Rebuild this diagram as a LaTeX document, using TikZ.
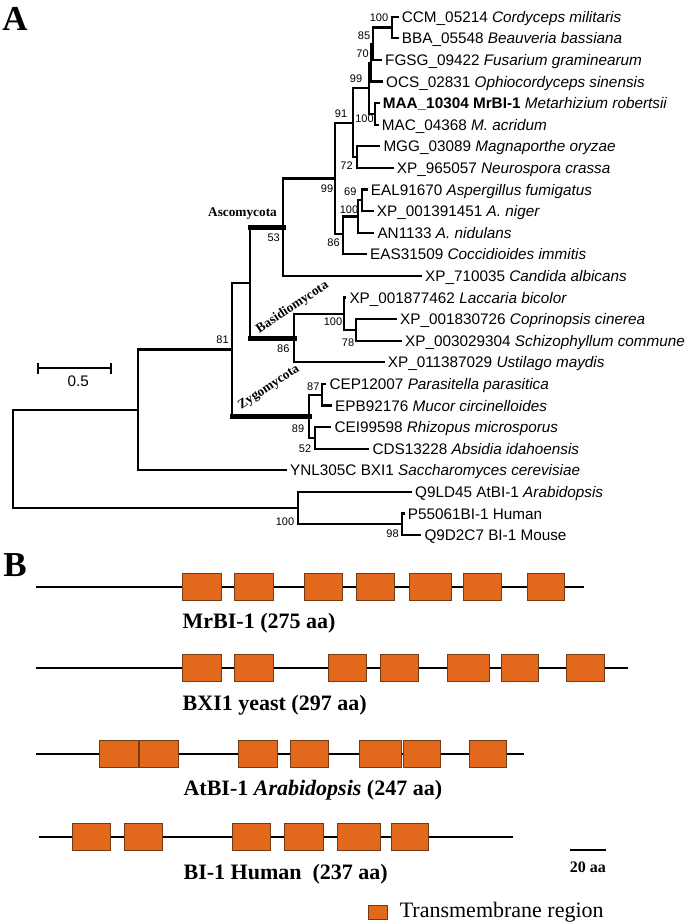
\documentclass[tikz,border=0pt]{standalone}
\usepackage{fontspec}
\setmainfont{Liberation Serif}
\newfontfamily\arialfont{Liberation Sans}
\definecolor{tmorange}{RGB}{226,104,28}
\definecolor{tmedge}{RGB}{115,58,20}
\tikzset{
    branch/.style={line width=2.2pt},
    cladebar/.style={line width=5pt, line cap=rect},
    taxon/.style={anchor=west, inner sep=3pt, text height=11pt, text depth=0pt,
        font=\arialfont\fontsize{15.3}{18}\selectfont},
    boot/.style={inner sep=0pt, font=\arialfont\fontsize{11}{13}\selectfont},
    cladelab/.style={inner sep=0pt, font=\bfseries\fontsize{13.3}{15}\selectfont},
    panellab/.style={inner sep=0pt, font=\bfseries\fontsize{35}{40}\selectfont},
    protline/.style={line width=2.7pt},
    tmbox/.style={fill=tmorange, draw=tmedge, line width=0.8pt},
    protlab/.style={anchor=west, inner sep=0pt, text height=14pt, text depth=0pt,
        font=\bfseries\fontsize{22}{25}\selectfont},
    pics/protein/.style n args = {3}{
        code = {
        \draw[protline] (#1,0) -- (#2,0);
        \foreach \xa/\xb in {#3} {\draw[tmbox] (\xa,-13.5) rectangle (\xb,13.5);}
        }
    }
}

\begin{document}
\begin{tikzpicture}[x=1pt,y=-1pt]
    \useasboundingbox (0,0) rectangle (685,924);

    % panel A
    \node[panellab] (labA) at (15,19) {A};

    \node[taxon] (CCM)  at (398.7,16.7)  {CCM\_05214 \textit{Cordyceps militaris}};
    \node[taxon] (BBA)  at (398.7,38.3)  {BBA\_05548 \textit{Beauveria bassiana}};
    \node[taxon] (FGSG) at (382,59.9)    {FGSG\_09422 \textit{Fusarium graminearum}};
    \node[taxon] (OCS)  at (383,81.5)    {OCS\_02831 \textit{Ophiocordyceps sinensis}};
    \node[taxon] (MAA)  at (379.7,103.1) {\textbf{MAA\_10304 MrBI-1} \textit{Metarhizium robertsii}};
    \node[taxon] (MAC)  at (378.7,124.7) {MAC\_04368 \textit{M. acridum}};
    \node[taxon] (MGG)  at (380.3,146.3) {MGG\_03089 \textit{Magnaporthe oryzae}};
    \node[taxon] (NCR)  at (393.7,167.9) {XP\_965057 \textit{Neurospora crassa}};
    \node[taxon] (EAL)  at (367.7,189.5) {EAL91670 \textit{Aspergillus fumigatus}};
    \node[taxon] (ANG)  at (373.7,211.1) {XP\_001391451 \textit{A. niger}};
    \node[taxon] (AND)  at (374.3,232.7) {AN1133 \textit{A. nidulans}};
    \node[taxon] (EAS)  at (367,254.3)   {EAS31509 \textit{Coccidioides immitis}};
    \node[taxon] (CAL)  at (422,275.9)   {XP\_710035 \textit{Candida albicans}};
    \node[taxon] (LBI)  at (346.3,297.5) {XP\_001877462 \textit{Laccaria bicolor}};
    \node[taxon] (CCI)  at (397,319.1)   {XP\_001830726 \textit{Coprinopsis cinerea}};
    \node[taxon] (SCO)  at (402,340.7)   {XP\_003029304 \textit{Schizophyllum commune}};
    \node[taxon] (UMA)  at (384.7,362.3) {XP\_011387029 \textit{Ustilago maydis}};
    \node[taxon] (CEP)  at (326.3,383.9) {CEP12007 \textit{Parasitella parasitica}};
    \node[taxon] (EPB)  at (332,405.5)   {EPB92176 \textit{Mucor circinelloides}};
    \node[taxon] (CEI)  at (331.3,427.1) {CEI99598 \textit{Rhizopus microsporus}};
    \node[taxon] (CDS)  at (369.3,448.7) {CDS13228 \textit{Absidia idahoensis}};
    \node[taxon] (SCE)  at (287,470.3)   {YNL305C BXI1 \textit{Saccharomyces cerevisiae}};
    \node[taxon] (ATH)  at (412,491.9)   {Q9LD45 AtBI-1 \textit{Arabidopsis}};
    \node[taxon] (HSA)  at (404.7,513.5) {P55061BI-1 Human};
    \node[taxon] (MMU)  at (421.3,535.1) {Q9D2C7 BI-1 Mouse};

    \coordinate (nA)    at (391.7,27.5);
    \coordinate (nB)    at (373,43.7);
    \coordinate (nC)    at (371,62.6);
    \coordinate (nD)    at (375,113.9);
    \coordinate (nE)    at (369,88.3);
    \coordinate (nF)    at (356.7,157.1);
    \coordinate (nG)    at (353.3,122.7);
    \coordinate (nH)    at (361.7,200.3);
    \coordinate (nI)    at (358.3,216.5);
    \coordinate (nJ)    at (343.3,234);
    \coordinate (nPez)  at (335,178.5);
    \coordinate (nAsco) at (283.3,227.5);
    \coordinate (nC78)  at (356,329.9);
    \coordinate (nC100) at (344.3,313.7);
    \coordinate (nBasi) at (294.3,338);
    \coordinate (nAB)   at (250,282.7);
    \coordinate (n87)   at (321.7,394.7);
    \coordinate (n52)   at (315,437.9);
    \coordinate (n89)   at (309,416.3);
    \coordinate (n81)   at (232.3,349.5);
    \coordinate (nFY)   at (137.7,409.9);
    \coordinate (n98)   at (401.7,524.3);
    \coordinate (nPA)   at (298,508.1);
    \coordinate (nRoot) at (13.3,459);

    \draw[branch] (nA) |- (CCM.west);
    \draw[branch] (nA) |- (BBA.west);
    \draw[branch] (nB) |- (nA);
    \draw[branch] (nB) |- (FGSG.west);
    \draw[branch] (nC) |- (nB);
    \draw[branch] (nC) |- (OCS.west);
    \draw[branch] (nD) |- (MAA.west);
    \draw[branch] (nD) |- (MAC.west);
    \draw[branch] (nE) |- (nC);
    \draw[branch] (nE) |- (nD);
    \draw[branch] (nF) |- (MGG.west);
    \draw[branch] (nF) |- (NCR.west);
    \draw[branch] (nG) |- (nE);
    \draw[branch] (nG) |- (nF);
    \draw[branch] (nH) |- (EAL.west);
    \draw[branch] (nH) |- (ANG.west);
    \draw[branch] (nI) |- (nH);
    \draw[branch] (nI) |- (AND.west);
    \draw[branch] (nJ) |- (nI);
    \draw[branch] (nJ) |- (EAS.west);
    \draw[branch] (nPez) |- (nG);
    \draw[branch] (nPez) |- (nJ);
    \draw[branch] (nAsco) |- (nPez);
    \draw[branch] (nAsco) |- (CAL.west);

    \draw[branch] (nC78) |- (CCI.west);
    \draw[branch] (nC78) |- (SCO.west);
    \draw[branch] (nC100) |- (LBI.west);
    \draw[branch] (nC100) |- (nC78);
    \draw[branch] (nBasi) |- (nC100);
    \draw[branch] (nBasi) |- (UMA.west);
    \draw[branch] (nAB) |- (nAsco);
    \draw[branch] (nAB) |- (nBasi);

    \draw[branch] (n87) |- (CEP.west);
    \draw[branch] (n87) |- (EPB.west);
    \draw[branch] (n52) |- (CEI.west);
    \draw[branch] (n52) |- (CDS.west);
    \draw[branch] (n89) |- (n87);
    \draw[branch] (n89) |- (n52);
    \draw[branch] (n81) |- (nAB);
    \draw[branch] (n81) |- (n89);
    \draw[branch] (nFY) |- (n81);
    \draw[branch] (nFY) |- (SCE.west);

    \draw[branch] (n98) |- (HSA.west);
    \draw[branch] (n98) |- (MMU.west);
    \draw[branch] (nPA) |- (ATH.west);
    \draw[branch] (nPA) |- (n98);
    \draw[branch] (nRoot) |- (nFY);
    \draw[branch] (nRoot) |- (nPA);

    % thick clade branches
    \draw[cladebar] (nAB |- nAsco) -- (nAsco);
    \draw[cladebar] (nAB |- nBasi) -- (nBasi);
    \draw[cladebar] (n81 |- n89) -- (n89);

    \node[cladelab] (asco) at (242.5,214) {Ascomycota};
    \node[cladelab, rotate=33.4] (basi) at (292.5,307.5) {Basidiomycota};
    \node[cladelab, rotate=33.4] (zygo) at (269,387.5) {Zygomycota};

    % bootstrap values
    \node[boot] (bs1)  at (379,18)      {100};
    \node[boot] (bs2)  at (364,35.5)    {85};
    \node[boot] (bs3)  at (362.5,53.5)  {70};
    \node[boot] (bs4)  at (356,79)      {99};
    \node[boot] (bs5)  at (341,114)     {91};
    \node[boot] (bs6)  at (364.5,119)   {100};
    \node[boot] (bs7)  at (346.5,165.5) {72};
    \node[boot] (bs8)  at (327,188.3)   {99};
    \node[boot] (bs9)  at (350.3,191.7) {69};
    \node[boot] (bs10) at (349,209.3)   {100};
    \node[boot] (bs11) at (333.5,243)   {86};
    \node[boot] (bs12) at (273.7,237.3) {53};
    \node[boot] (bs13) at (222.5,339.3) {81};
    \node[boot] (bs14) at (333,321.7)   {100};
    \node[boot] (bs15) at (348,342.3)   {78};
    \node[boot] (bs16) at (283.3,348.3) {86};
    \node[boot] (bs17) at (313.3,386.7) {87};
    \node[boot] (bs18) at (298,428.3)   {89};
    \node[boot] (bs19) at (305,448.3)   {52};
    \node[boot] (bs20) at (285,522)     {100};
    \node[boot] (bs21) at (392.5,533.3) {98};

    % scale bar
    \coordinate (sbL) at (37.7,368.3);
    \coordinate (sbR) at (111,368.3);
    \draw[branch] (sbL) -- (sbR);
    \draw[branch] (sbL) ++(0,-5.5) -- ++(0,11);
    \draw[branch] (sbR) ++(0,-5.5) -- ++(0,11);
    \node[inner sep=0pt, font=\arialfont\fontsize{15.3}{18}\selectfont] (sblab) at (78.3,381.7) {0.5};

    % panel B
    \node[panellab] (labB) at (15,565) {B};

    \path pic at (0,587) {protein={36}{584}{182.5/221.4, 234.5/272.9, 304.4/342.8, 355.9/394.3, 409.2/451.1, 462.9/500.9, 527.5/564.6}};
    \node[protlab] (mrbi) at (182.5,621.7) {MrBI-1 (275 aa)};

    \path pic at (0,668) {protein={36}{628}{182.5/221, 234.5/273, 328/366.4, 380/418.3, 447.6/489.5, 501.3/538.4, 566.4/604}};
    \node[protlab] (bxi) at (182.5,703.3) {BXI1 yeast (297 aa)};

    \path pic at (0,754) {protein={36}{524}{99.6/138, 139.7/178.2, 238.4/276.9, 290.4/328.8, 359.8/401.7, 403.5/440.2, 469.4/506.6}};
    \node[protlab] (atbi) at (183.4,788.3) {AtBI-1 \textit{Arabidopsis} (247 aa)};

    \path pic at (0,837) {protein={39}{513}{72/110.5, 124.5/162.4, 232.8/270.7, 284.3/323.1, 337.6/379.9, 391.7/428}};
    \node[protlab] (hbi) at (183.4,872) {BI-1 Human\ \ (237 aa)};

    \coordinate (aaL) at (569.9,850);
    \coordinate (aaR) at (605.7,850);
    \draw[protline] (aaL) -- (aaR);
    \node[inner sep=0pt, font=\bfseries\fontsize{16}{18}\selectfont] (aalab) at (587.8,867) {20 aa};

    \draw[tmbox] (368,905) rectangle (387,919);
    \node[anchor=west, inner sep=0pt, font=\fontsize{22}{24}\selectfont] (leg) at (399.6,912) {Transmembrane region};

\end{tikzpicture}
\end{document}
